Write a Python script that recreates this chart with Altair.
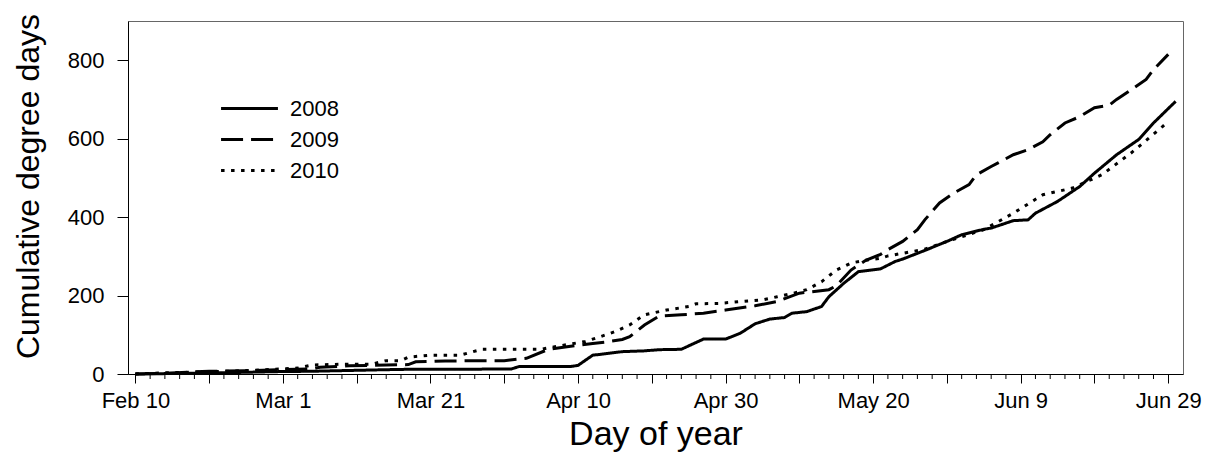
import altair as alt
import pandas as pd

# Day of year (2008 calendar: Feb 10 = 41, Jun 29 = 181) and cumulative degree days
days_2008 = [41, 45, 50, 55, 60, 65, 70, 75, 78, 85, 92, 93, 100, 101, 103, 104, 107, 110, 112, 115,
             118, 121, 123, 125, 127, 129, 130, 132, 134, 135, 137, 139, 142, 144, 145, 148, 151, 153,
             156, 157, 160, 162, 163, 166, 169, 171, 174, 177, 179, 182]
vals_2008 = [0, 1, 2, 4, 6, 7, 9, 11, 12, 12, 13, 19, 19, 22, 48, 50, 57, 59, 62, 63,
             89, 89, 104, 128, 140, 144, 155, 159, 172, 197, 231, 261, 268, 287, 293, 315, 338, 355,
             369, 372, 391, 393, 410, 440, 478, 512, 559, 598, 640, 695]

days_2009 = [41, 45, 51, 56, 61, 65, 66, 70, 75, 78, 79, 83, 88, 91, 94, 97, 100, 103, 105, 107,
             108, 110, 112, 115, 118, 121, 125, 128, 131, 135, 136, 138, 140, 142, 143, 145, 147, 148,
             150, 152, 154, 155, 157, 158, 160, 162, 164, 165, 167, 169, 171, 173, 174, 176, 178, 179, 181]
vals_2009 = [0, 2, 7, 8, 11, 13, 17, 21, 23, 24, 31, 33, 34, 34, 40, 63, 71, 78, 82, 88,
             95, 125, 148, 151, 155, 163, 174, 185, 206, 215, 225, 265, 290, 305, 317, 338, 368, 393,
             436, 462, 483, 508, 529, 539, 559, 572, 592, 610, 640, 656, 679, 685, 700, 725, 751, 776, 815]

days_2010 = [41, 45, 50, 55, 60, 63, 65, 69, 73, 75, 77, 78, 81, 85, 88, 96, 98, 102, 104, 106,
             108, 109, 110, 113, 116, 117, 120, 126, 128, 130, 132, 134, 136, 138, 140, 142, 143, 148,
             151, 156, 160, 164, 168, 172, 176, 180, 181]
vals_2010 = [0, 3, 5, 8, 12, 15, 23, 25, 25, 34, 34, 43, 48, 48, 63, 63, 70, 83, 95, 108,
             125, 138, 151, 163, 172, 179, 180, 189, 197, 205, 215, 235, 265, 283, 290, 295, 301, 318,
             338, 368, 410, 457, 474, 508, 564, 627, 644]

years = ["2008", "2009", "2010"]
dash_styles = [[1, 0], [22, 8], [3.5, 6.5]]

y_ticks = [0, 200, 400, 600, 800]
major_ticks = list(range(41, 183, 10))
minor_ticks = [d for d in range(41, 183, 2) if (d - 41) % 10 != 0]

rows = []
for yr, ds, vs in zip(years, [days_2008, days_2009, days_2010], [vals_2008, vals_2009, vals_2010]):
    for d, v in zip(ds, vs):
        rows.append({"year": yr, "day": d, "gdd": v})
df = pd.DataFrame(rows)
ticks_df = pd.DataFrame({"day": minor_ticks})

FONT = "Liberation Sans"
W, H = 1055, 353

x_scale = alt.Scale(domain=[40, 183], nice=False, zero=False)

lines = alt.Chart(df).mark_line(strokeWidth=3, color="black", strokeCap="butt").encode(
    x=alt.X(
        "day:Q",
        scale=x_scale,
        axis=alt.Axis(
            title="Day of year",
            values=major_ticks,
            labelExpr="(datum.value - 41) % 20 == 0 ? timeFormat(datetime(2008, 0, datum.value), '%b %-d') : ''",
            tickSize=9,
            labelPadding=7,
            labelFontSize=22,
            titleFontSize=34,
            titlePadding=6,
            labelOverlap=False,
            grid=False,
        ),
    ),
    y=alt.Y(
        "gdd:Q",
        scale=alt.Scale(domain=[0, 900], nice=False),
        axis=alt.Axis(
            title="Cumulative degree days",
            values=y_ticks,
            tickSize=11,
            labelPadding=13,
            labelFontSize=22,
            titleFontSize=32,
            titlePadding=22,
            titleY=165,
            grid=False,
        ),
    ),
    strokeDash=alt.StrokeDash(
        "year:N",
        scale=alt.Scale(domain=years, range=dash_styles),
        legend=alt.Legend(
            title=None,
            orient="none",
            legendX=102,
            legendY=68,
            symbolType="M-1.58,0H1.58",
            symbolSize=1296,
            symbolStrokeWidth=3,
            symbolStrokeColor="black",
            labelFontSize=22,
            labelColor="black",
            labelFont=FONT,
            labelOffset=21,
            rowPadding=0,
        ),
    ),
    detail="year:N",
)

minor = alt.Chart(ticks_df).mark_rule(color="black", strokeWidth=1).encode(
    x=alt.X("day:Q", scale=x_scale),
    y=alt.value(H),
    y2=alt.value(H + 5),
)

chart = alt.layer(lines, minor).properties(
    width=W,
    height=H,
    autosize=alt.AutoSizeParams(type="none"),
    padding={"left": 120, "top": 13, "right": 19, "bottom": 80},
).configure_axis(
    labelFont=FONT,
    titleFont=FONT,
    labelColor="black",
    titleColor="black",
    titleFontWeight="normal",
    domainColor="black",
    tickColor="black",
    domainWidth=1,
    tickWidth=1,
).configure_view(
    stroke="#666666",
    strokeWidth=1,
)

chart.save("out.html", embed_options={"renderer": "svg", "actions": False})
